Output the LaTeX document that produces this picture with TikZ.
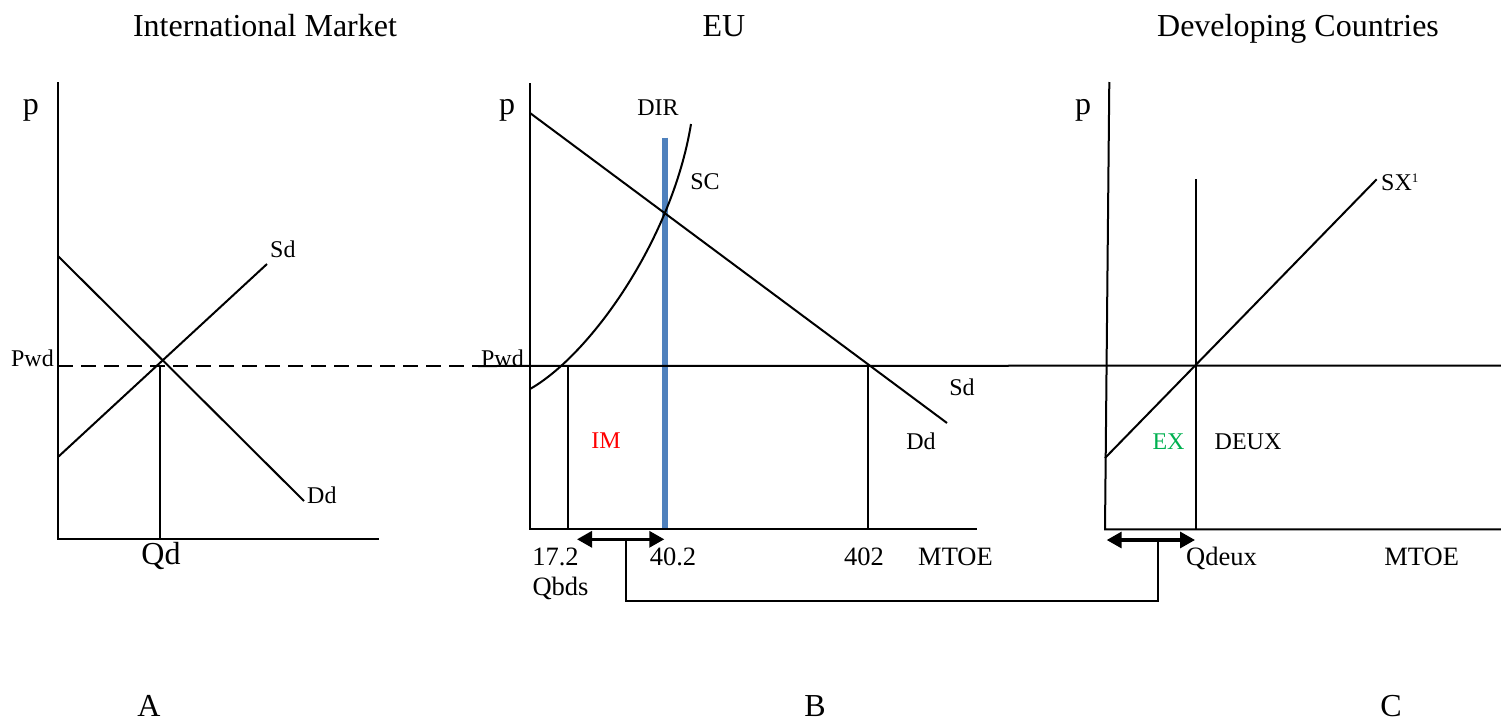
\documentclass[tikz,border=0pt]{standalone}
\usepackage{fontspec}
\setmainfont{Liberation Serif}
\usetikzlibrary{arrows.meta}
\definecolor{dirblue}{RGB}{79,129,189}
\definecolor{imred}{RGB}{255,0,0}
\definecolor{exgreen}{RGB}{0,176,80}
\begin{document}
\begin{tikzpicture}[x=1pt,y=-1pt,
  ln/.style={line width=2pt, black},
  ttl/.style={font=\fontsize{32}{38}\selectfont, inner sep=0pt, anchor=base},
  axl/.style={font=\fontsize{32}{38}\selectfont, inner sep=0pt},
  lbl/.style={font=\fontsize{24}{28}\selectfont, inner sep=0pt},
  num/.style={font=\fontsize{26.5}{30}\selectfont, inner sep=0pt, anchor=base},
  dblarrow/.style={line width=3.2pt, {Triangle[length=15pt,width=16pt]}-{Triangle[length=15pt,width=16pt]}},
  dashline/.style={line width=2pt, dash pattern=on 15pt off 8pt}
]
\useasboundingbox (0,0) rectangle (1501,721);

% titles
\node[ttl] (tA) at (265,36) {International Market};
\node[ttl] (tB) at (724,36) {EU};
\node[ttl] (tC) at (1298,36) {Developing Countries};
\node[ttl] (lA) at (149,716) {A};
\node[ttl] (lB) at (815,716) {B};
\node[ttl] (lC) at (1391,716) {C};

% ---------- Panel A ----------
\coordinate (Atop) at (58,82);
\coordinate (A0) at (58,539);
\coordinate (Aend) at (379,539);
\draw[ln] (Atop) -- (A0) -- (Aend);
\coordinate (ADa) at (58,256);
\coordinate (ADb) at (304,501);
\draw[ln] (ADa) -- (ADb);
\coordinate (ASa) at (58,457);
\coordinate (ASb) at (267,264);
\draw[ln] (ASa) -- (ASb);
\coordinate (APw) at (58,366);
\coordinate (Bdash) at (478,366);
\draw[dashline] (APw) -- (Bdash);
\coordinate (AQt) at (159.5,366);
\coordinate (AQb) at (159.5,539);
\draw[ln] (AQt) -- (AQb);
\node[axl] (Ap) at (31,110) {p};
\node[lbl, anchor=base west] (ASd) at (270,257) {Sd};
\node[lbl, anchor=base west] (ADd) at (307,503) {Dd};
\node[lbl, anchor=base east] (APwd) at (54,366) {Pwd};
\node[axl, anchor=base] (AQd) at (161,564) {Qd};

% ---------- Panel B ----------
\coordinate (BDtop) at (664.5,137.7);
\coordinate (BDbot) at (664.5,529.3);
\draw[line width=6pt, dirblue] (BDtop) -- (BDbot);
\coordinate (Btop) at (530,83);
\coordinate (B0) at (530,529.3);
\coordinate (Bend) at (977,529.3);
\draw[ln] (Btop) -- (B0) -- (Bend);
\coordinate (BDa) at (530,113);
\coordinate (BDb) at (947,423);
\draw[ln] (BDa) -- (BDb);
\coordinate (BSa) at (530,389);
\coordinate (BSb) at (691,124);
\draw[ln] (BSa) .. controls (590,355) and (672,240) .. (BSb);
\coordinate (Pend) at (1501,365.5);
\draw[ln] (Bdash) -- (Pend);
\coordinate (BV1t) at (567.7,365.5);
\coordinate (BV1b) at (567.7,529.3);
\draw[ln] (BV1t) -- (BV1b);
\coordinate (BV2t) at (868.3,365.5);
\coordinate (BV2b) at (868.3,529.3);
\draw[ln] (BV2t) -- (BV2b);
\coordinate (BAl) at (577,539.3);
\coordinate (BAr) at (664.3,539.3);
\draw[dblarrow] (BAl) -- (BAr);
\node[axl] (Bp) at (507,110) {p};
\node[lbl] (BDIR) at (658,107.5) {DIR};
\node[lbl] (BSC) at (705,182) {SC};
\node[lbl, anchor=base east] (BPwd) at (524,366) {Pwd};
\node[lbl] (BSd) at (962,387) {Sd};
\node[lbl] (BDd) at (921,441) {Dd};
\node[lbl, text=imred] (BIM) at (606,441) {IM};
\node[num] (B172) at (555.5,565) {17.2};
\node[num] (BQbds) at (560.5,595) {Qbds};
\node[num] (B402a) at (673,565) {40.2};
\node[num] (B402) at (864,565) {402};
\node[num] (BMT) at (955.5,565) {MTOE};

% ---------- Panel C ----------
\coordinate (Ctop) at (1109.3,82);
\coordinate (C0) at (1105,529.3);
\coordinate (Cend) at (1501,529.3);
\draw[ln] (Ctop) -- (C0) -- (Cend);
\coordinate (CVt) at (1196,179.3);
\coordinate (CVb) at (1196,529.3);
\draw[ln] (CVt) -- (CVb);
\coordinate (CSa) at (1105,458);
\coordinate (CSb) at (1376.7,179.3);
\draw[ln] (CSa) -- (CSb);
\coordinate (CAl) at (1106.7,540);
\coordinate (CAr) at (1195,540);
\draw[dblarrow] (CAl) -- (CAr);
\node[axl] (Cp) at (1083,110) {p};
\node[lbl, anchor=base west] (CSX) at (1381,190) {SX\raisebox{8pt}{\fontsize{13}{14}\selectfont 1}};
\node[lbl, text=exgreen] (CEX) at (1168.5,441.7) {EX};
\node[lbl] (CDEUX) at (1248,441.7) {DEUX};
\node[num] (CQ) at (1221.5,565) {Qdeux};
\node[num] (CMT) at (1421.7,565) {MTOE};

% ---------- connector between the two arrows ----------
\coordinate (K1) at (626,539.3);
\coordinate (K2) at (626,601);
\coordinate (K3) at (1158.3,601);
\coordinate (K4) at (1158.3,540);
\draw[ln] (K1) -- (K2) -- (K3) -- (K4);
\end{tikzpicture}
\end{document}
